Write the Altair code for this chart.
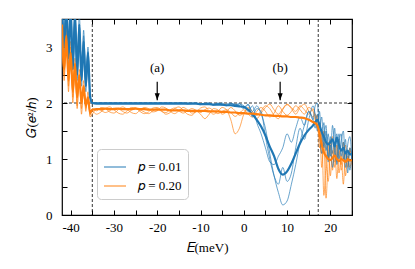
import altair as alt
import pandas as pd

# ---------------- data ----------------
ENERGY = [-42, -41.5, -41, -40.5, -40, -39.5, -39, -38.5, -38, -37.5, -37, -36.5, -36, -35.5, -35,
          -34, -33, -32, -31, -30, -29, -28, -27, -26, -25, -24, -23, -22, -21, -20, -19, -18, -17,
          -16, -15, -14, -13, -12, -11, -10, -9, -8, -7, -6, -5, -4, -3, -2, -1, 0, 1, 2, 3, 4, 5,
          6, 7, 8, 9, 10, 11, 12, 13, 14, 15, 16,
          16.5, 17, 17.5, 18, 18.5, 19, 19.5, 20, 20.5, 21, 21.5, 22, 22.5, 23, 23.5, 24, 24.5, 25]

# p = 0.01 : mean (thick) and individual samples (thin)
B_MEAN = [3.8, 3.0, 3.8, 2.8, 3.7, 2.6, 3.6, 2.5, 3.4, 2.4, 3.1, 2.3, 2.9, 2.1, 2.0,
          1.99, 1.99, 1.99, 1.99, 1.99, 1.99, 1.99, 1.99, 1.99, 1.99, 1.99, 1.99, 1.99, 1.99,
          1.99, 1.99, 1.99, 1.99, 1.99, 1.99, 1.99, 1.99, 1.99, 1.99,
          1.98, 1.98, 1.98, 1.97, 1.97, 1.97, 1.96, 1.96,
          1.95, 1.94, 1.93, 1.88, 1.80, 1.70, 1.58, 1.42, 1.22, 1.05, 0.82, 0.72, 0.78, 0.92,
          1.10, 1.28, 1.42, 1.52, 1.60,
          1.66, 1.70, 1.60, 1.48, 1.40, 1.30, 1.26, 1.30, 1.35, 1.22, 1.38, 1.25, 1.15, 1.20,
          1.10, 1.15, 1.08, 1.10]
B_1 = [3.9, 3.1, 4.0, 2.9, 3.9, 2.7, 3.8, 2.6, 3.6, 2.5, 3.3, 2.4, 3.0, 2.2, 2.0,
       2.00, 2.00, 2.00, 2.00, 2.00, 2.00, 2.00, 2.00, 2.00, 2.00, 2.00, 2.00, 2.00, 2.00,
       2.00, 2.00, 2.00, 2.00, 2.00, 2.00,
       2.00, 1.99, 2.00, 1.99, 1.98, 2.00, 1.99, 1.97, 2.00, 1.98, 1.96, 1.99,
       1.98, 1.95, 1.90, 1.97, 1.85, 1.95, 1.80, 1.55, 1.10, 0.70, 0.40, 0.18, 0.25, 0.55,
       0.90, 1.30, 1.60, 1.85, 1.70,
       1.95, 2.00, 1.55, 1.75, 1.20, 1.50, 0.95, 1.40, 1.10, 1.55, 0.90, 1.30, 1.45, 1.00,
       1.35, 0.75, 1.20, 1.00]
B_2 = [3.8, 2.9, 3.9, 2.8, 3.8, 2.6, 3.6, 2.5, 3.4, 2.4, 3.2, 2.3, 2.9, 2.1, 2.0,
       2.00, 2.00, 2.00, 2.00, 2.00, 2.00, 2.00, 2.00, 2.00, 2.00, 2.00, 2.00, 2.00, 2.00,
       2.00, 2.00, 2.00, 2.00,
       1.99, 2.00, 2.00, 1.98, 1.99, 2.00, 1.97, 1.99, 2.00, 1.96, 1.98, 2.00, 1.95, 1.98,
       1.97, 1.99, 1.92, 1.98, 1.75, 1.90, 1.85, 1.40, 1.00, 0.70, 0.55, 0.85, 0.60, 0.75,
       1.20, 1.55, 1.35, 1.70, 1.95,
       1.80, 1.50, 1.85, 1.30, 1.65, 1.15, 1.45, 1.05, 1.60, 1.20, 0.95, 1.45, 1.05, 1.30,
       0.85, 1.25, 1.40, 0.95]
B_3 = [3.7, 3.0, 3.7, 2.7, 3.6, 2.6, 3.5, 2.4, 3.3, 2.3, 3.0, 2.2, 2.8, 2.1, 2.0,
       2.00, 2.00, 2.00, 2.00, 2.00, 2.00, 2.00, 2.00, 2.00, 2.00, 2.00, 2.00, 2.00, 2.00,
       2.00, 2.00, 2.00, 2.00, 2.00, 2.00, 2.00, 2.00,
       1.99, 2.00, 1.98, 1.99, 2.00, 1.97, 1.99, 1.96, 1.98, 2.00,
       1.96, 1.98, 1.95, 1.85, 1.95, 1.65, 1.45, 1.20, 0.95, 0.90, 1.05, 1.20, 1.45, 1.30,
       1.55, 1.75, 1.60, 1.85, 1.70,
       1.55, 1.80, 1.45, 1.10, 1.40, 1.60, 1.00, 1.25, 0.85, 1.15, 1.45, 1.00, 1.30, 1.50,
       0.95, 1.10, 0.80, 1.15]

# p = 0.20 : mean (thick) and individual samples (thin)
O_MEAN = [3.4, 2.6, 3.2, 2.4, 2.9, 2.2, 2.7, 2.1, 2.5, 2.0, 2.3, 1.95, 2.1, 1.82, 1.88,
          1.89, 1.89, 1.90, 1.89, 1.89, 1.90, 1.89, 1.89, 1.89, 1.90, 1.89, 1.89, 1.88, 1.88,
          1.88, 1.88, 1.88, 1.87, 1.87, 1.87, 1.87, 1.86, 1.86, 1.86,
          1.86, 1.86, 1.85, 1.85, 1.85, 1.84, 1.84, 1.83, 1.83, 1.82,
          1.82, 1.81, 1.81, 1.80, 1.79, 1.78, 1.78, 1.77, 1.77, 1.76, 1.76, 1.75, 1.75, 1.74,
          1.73, 1.70, 1.66,
          1.64, 1.60, 1.45, 1.25, 1.12, 1.05, 1.00, 0.98, 1.02, 1.06, 1.00, 0.96, 1.00, 0.98,
          0.95, 1.00, 0.97, 0.98]
O_1 = [3.6, 2.7, 3.4, 2.3, 3.0, 2.1, 2.8, 1.95, 2.6, 1.9, 2.4, 1.85, 2.2, 1.78, 1.90,
       1.86, 1.92, 1.90, 1.84, 1.82, 1.88, 1.93, 1.89, 1.83, 1.81,
       1.87, 1.92, 1.90, 1.84, 1.86, 1.93, 1.91, 1.85, 1.81, 1.86,
       1.92, 1.88, 1.82, 1.84, 1.91, 1.93, 1.86, 1.80, 1.85, 1.92,
       1.88, 1.70, 1.45, 1.55, 1.80, 1.92, 1.85, 1.78, 1.86, 1.95,
       1.90, 1.78, 1.72, 1.88, 1.97, 1.90, 1.80, 1.92, 1.98, 1.86,
       1.75,
       1.80, 1.70, 1.20, 1.45, 0.35, 0.90, 1.30, 0.70, 1.15, 0.85, 1.25, 0.75, 1.05, 0.55,
       1.10, 0.95, 1.20, 0.90]
O_2 = [3.3, 2.5, 3.1, 2.5, 2.8, 2.3, 2.6, 2.2, 2.4, 2.1, 2.2, 2.0, 2.0, 1.85, 1.85,
       1.80, 1.84, 1.90, 1.93, 1.88, 1.82, 1.80, 1.86, 1.92, 1.91,
       1.85, 1.81, 1.84, 1.91, 1.92, 1.86, 1.80, 1.83, 1.90, 1.93,
       1.87, 1.80, 1.78, 1.85, 1.80, 1.72, 1.80, 1.90, 1.88, 1.80,
       1.84, 1.92, 1.86, 1.78, 1.82, 1.90, 1.80, 1.72, 1.82, 1.92,
       1.98, 1.88, 1.80, 1.90, 1.98, 1.92, 1.85, 1.95, 1.88, 1.80,
       1.90,
       1.75, 1.55, 1.65, 0.85, 1.30, 0.30, 1.00, 1.35, 0.80, 1.20, 0.65, 1.15, 0.90, 1.30,
       0.70, 1.05, 0.85, 1.10]
O_3 = [3.5, 2.4, 3.3, 2.2, 3.1, 2.0, 2.7, 1.9, 2.5, 1.8, 2.3, 1.9, 2.1, 1.75, 1.80,
       1.90, 1.87, 1.83, 1.86, 1.91, 1.90, 1.85, 1.82, 1.87, 1.91,
       1.88, 1.84, 1.81, 1.86, 1.90, 1.85, 1.83, 1.88, 1.91, 1.86,
       1.82, 1.86, 1.90, 1.87, 1.83, 1.88, 1.91, 1.86, 1.81, 1.85,
       1.88, 1.83, 1.76, 1.82, 1.88, 1.80, 1.75, 1.85, 1.92, 1.85,
       1.75, 1.82, 1.95, 1.85, 1.78, 1.85, 1.95, 1.88, 1.80, 1.92,
       1.85,
       1.70, 1.78, 1.40, 1.10, 1.50, 0.95, 0.60, 1.15, 1.40, 0.95, 1.10, 1.35, 0.80, 1.00,
       1.25, 0.85, 1.15, 1.05]

SERIES = ["𝑝 = 0.01", "𝑝 = 0.20"]
COLORS = ["#1f77b4", "#ff7f0e"]

VLINES = [-35, 17.2]
HLINE = [2.0]
ARROW_E = [-20, 8.4]
ARROW_LABELS = ["(a)", "(b)"]
ARROW_TOP = [2.38, 2.38]
ARROW_TIP = [2.05, 2.05]
LABEL_G = [2.62, 2.62]

X_TICKS = [-40, -35, -30, -25, -20, -15, -10, -5, 0, 5, 10, 15, 20, 25]
Y_TICKS = [0, 0.5, 1, 1.5, 2, 2.5, 3, 3.5]

# ---------------- tables ----------------
curves = [
    (SERIES[1], "thin", "o1", O_1), (SERIES[1], "thin", "o2", O_2), (SERIES[1], "thin", "o3", O_3),
    (SERIES[0], "thin", "b1", B_1), (SERIES[0], "thin", "b2", B_2), (SERIES[0], "thin", "b3", B_3),
    (SERIES[0], "thick", "bm", B_MEAN), (SERIES[1], "thick", "om", O_MEAN),
]
rows = []
for label, kind, cid, vals in curves:
    assert len(vals) == len(ENERGY), (cid, len(vals))
    for e, g in zip(ENERGY, vals):
        rows.append({"E": e, "G": g, "series": label, "kind": kind, "curve": cid})
df = pd.DataFrame(rows)
thin_df = df[df.kind == "thin"]
thick_df = df[df.kind == "thick"]

vl_df = pd.DataFrame({"E": VLINES})
hl_df = pd.DataFrame({"G": HLINE})
arr_df = pd.DataFrame({"E": ARROW_E, "top": ARROW_TOP, "tip": ARROW_TIP,
                       "label": ARROW_LABELS, "ly": LABEL_G})

# ---------------- styling ----------------
W, H = 290, 196
FONT = "Liberation Serif"
FS = 13
xs = alt.Scale(domain=[-42, 25], nice=False, zero=False)
ys = alt.Scale(domain=[0, 3.5], nice=False, zero=False)

x_label_axis = alt.Axis(values=X_TICKS, ticks=False, tickSize=0, domain=False, grid=False,
                        labelExpr="datum.value % 10 === 0 ? '' + datum.value : ''",
                        labelFont=FONT, labelFontSize=FS, labelColor="black", labelPadding=6,
                        title="𝐸(meV)", titleFont=FONT, titleFontSize=FS, titleFontWeight="normal",
                        titleColor="black", titlePadding=7)
y_label_axis = alt.Axis(values=Y_TICKS, ticks=False, tickSize=0, domain=False, grid=False,
                        labelExpr="datum.value % 1 === 0 ? '' + datum.value : ''",
                        labelFont=FONT, labelFontSize=FS, labelColor="black", labelPadding=10,
                        title="𝐺(𝑒²/ℎ)", titleFont=FONT, titleFontSize=FS, titleFontWeight="normal",
                        titleColor="black", titlePadding=7)


def tick_axis(vals, orient, off):
    # axis moved onto the opposite edge so that its ticks point into the plot
    return alt.Axis(values=vals, orient=orient, offset=off, labels=False, domain=False,
                    grid=False, title=None, tickSize=5, tickWidth=1, tickColor="black")


color_enc = alt.Color("series:N", scale=alt.Scale(domain=SERIES, range=COLORS),
                      legend=alt.Legend(orient="none", legendX=35, legendY=130, title=None,
                                        symbolType="stroke", symbolSize=484,
                                        symbolStrokeWidth=1.5, symbolOpacity=0.65,
                                        labelFont=FONT, labelFontSize=FS, labelColor="black",
                                        labelOffset=11, rowPadding=0, padding=6,
                                        fillColor="white", strokeColor="#cccccc",
                                        cornerRadius=4))

dash = dict(color="black", strokeWidth=0.8, strokeDash=[3, 2])

vlines = alt.Chart(vl_df).mark_rule(**dash).encode(
    x=alt.X("E:Q", scale=xs, axis=tick_axis(X_TICKS, "top", -H)))
hline = alt.Chart(hl_df).mark_rule(**dash).encode(
    y=alt.Y("G:Q", scale=ys, axis=tick_axis(Y_TICKS, "right", -W)))

thin = alt.Chart(thin_df).mark_line(strokeWidth=0.9, opacity=0.75, clip=True,
                                    interpolate="monotone").encode(
    x=alt.X("E:Q", scale=xs, axis=x_label_axis),
    y=alt.Y("G:Q", scale=ys, axis=y_label_axis),
    color=color_enc,
    detail="curve:N",
)
thick = alt.Chart(thick_df).mark_line(strokeWidth=2.2, clip=True,
                                      interpolate="monotone").encode(
    x=alt.X("E:Q", scale=xs, axis=None),
    y=alt.Y("G:Q", scale=ys, axis=None),
    color=alt.Color("series:N", scale=alt.Scale(domain=SERIES, range=COLORS), legend=None),
    detail="curve:N",
)

shaft = alt.Chart(arr_df).mark_rule(color="black", strokeWidth=1.2).encode(
    x=alt.X("E:Q", scale=xs, axis=tick_axis(X_TICKS, "bottom", -H)),
    y=alt.Y("top:Q", scale=ys, axis=tick_axis(Y_TICKS, "left", -W)),
    y2=alt.Y2("tip:Q"),
)
head = alt.Chart(arr_df).mark_point(shape="M-0.36,-1L0.36,-1L0,0Z", size=196, filled=True,
                                    color="black", opacity=1).encode(
    x=alt.X("E:Q", scale=xs, axis=None),
    y=alt.Y("tip:Q", scale=ys, axis=None),
)
labels = alt.Chart(arr_df).mark_text(font=FONT, fontSize=FS, color="black",
                                     baseline="middle", align="center").encode(
    x=alt.X("E:Q", scale=xs, axis=None),
    y=alt.Y("ly:Q", scale=ys, axis=None),
    text="label:N",
)

chart = alt.layer(vlines, hline, thin, thick, shaft, head, labels).resolve_axis(
    x="independent", y="independent"
).properties(
    width=W, height=H,
    padding={"left": 54, "top": 11, "right": 5, "bottom": 45},
    autosize=alt.AutoSizeParams(type="none"),
).configure(
    background="white", font=FONT
).configure_axis(
    labelFont=FONT, titleFont=FONT
).configure_legend(
    labelFont=FONT
).configure_view(stroke="black", strokeWidth=1.2)

chart.save("out.html", embed_options={"renderer": "svg", "actions": False})
